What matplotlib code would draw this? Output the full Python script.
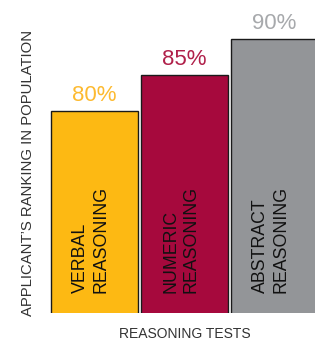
import matplotlib
matplotlib.use("Agg")
import matplotlib.pyplot as plt

categories = ["VERBAL\nREASONING", "NUMERIC\nREASONING", "ABSTRACT\nREASONING"]
values = [80, 85, 90]
labels = ["80%", "85%", "90%"]
colors = ["#FDB913", "#A6093D", "#939598"]
label_colors = ["#FDBA30", "#B0204A", "#A7A9AC"]

plt.rcParams['font.family'] = ['Liberation Sans', 'DejaVu Sans']

fig = plt.figure(figsize=(3.15, 3.43), dpi=100)
ax = fig.add_axes([0, 30/343, 1, 313/343])
x = list(range(len(values)))
ax.bar(x, values, width=87/90, color=colors, edgecolor="#1a1a1a", linewidth=1.0)
ax.set_xlim(-94/90, (315-94)/90)
ax.set_ylim(52, 52 + 313/7.2)
ax.axis('off')

for xi, v, lab, c in zip(x, values, labels, label_colors):
    ax.annotate(lab, (xi, v), xytext=(0, 7.5), textcoords='offset points',
                ha='center', va='baseline', fontsize=16, color=c)

for xi, cat in zip(x, categories):
    ax.text(xi - 0.037, 54.8, cat, rotation=90, ha='center', va='bottom',
            fontsize=12.8, color='#111111', linespacing=1.25, multialignment='left')

fig.text(28/315, 1 - 173/343, "APPLICANT\u2019S RANKING IN POPULATION", rotation=90,
         ha='center', va='center', fontsize=10.7, color='#333333')
fig.text(185/315, 9/343, "REASONING TESTS", ha='center', va='center',
         fontsize=10, color='#333333')

fig.savefig("out.png", dpi=100)
